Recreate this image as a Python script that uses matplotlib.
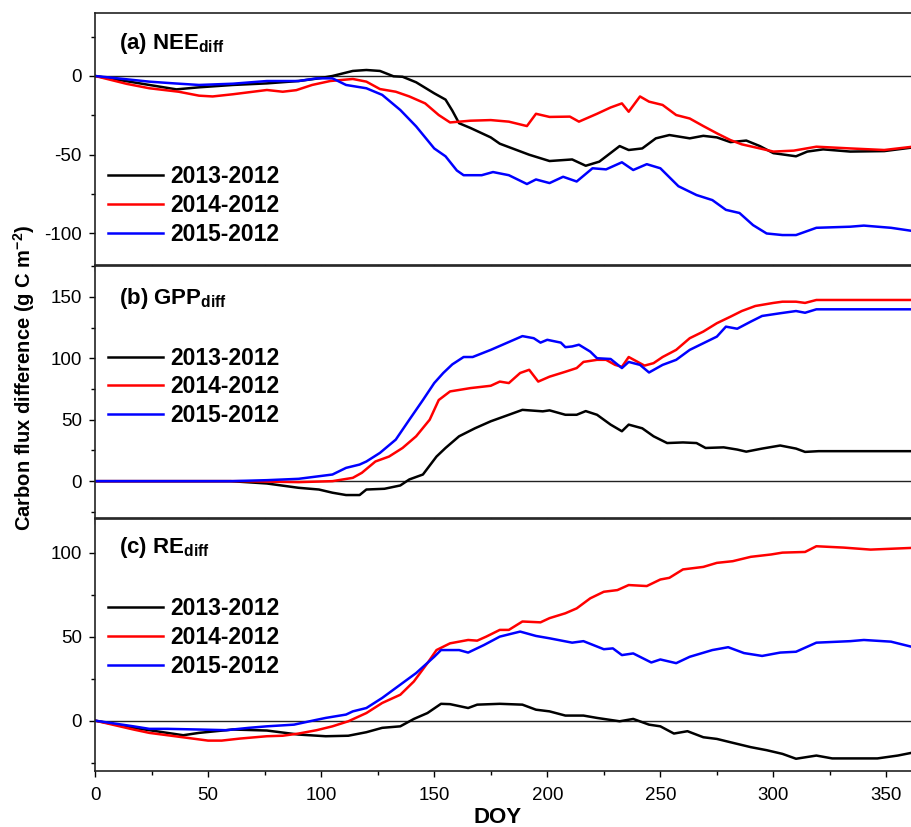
import numpy as np
import matplotlib
matplotlib.use('Agg')
import matplotlib.pyplot as plt
from matplotlib.ticker import MultipleLocator

plt.rcParams['font.family'] = ['Liberation Sans', 'DejaVu Sans']
plt.rcParams['mathtext.fontset'] = 'custom'
plt.rcParams['mathtext.rm'] = 'Liberation Sans'
plt.rcParams['mathtext.bf'] = 'Liberation Sans:bold'
plt.rcParams['axes.unicode_minus'] = False

series_names = ['2013-2012', '2014-2012', '2015-2012']
series_colors = ['black', 'red', 'blue']

# (a) NEE difference
nee_13_doy = [0, 24, 36, 46, 61, 76, 90, 99, 105, 114, 120, 126, 132, 136, 142, 150, 155, 158, 161,
              166, 175, 179, 192, 201, 211, 217, 223, 232, 236, 242, 248, 254, 263, 269, 275, 281,
              288, 294, 300, 310, 315, 322, 334, 349, 361, 365]
nee_13 = [0, -5.7, -8.5, -7.2, -5.7, -4.7, -3.2, -1.5, 0, 3.2, 3.8, 3.2, -0.2, -0.5, -4, -11, -15, -22, -30,
          -33, -39, -43, -50, -54, -53, -57, -54.4, -44.5, -47, -46, -39.6, -37.5, -39.6, -38, -39, -42,
          -41, -44.5, -49, -51, -48, -46.6, -48, -47.7, -45.5, -45.5]
nee_14_doy = [0, 14, 24, 37, 46, 52, 61, 76, 83, 89, 96, 104, 114, 120, 126, 133, 139, 146, 152, 157,
              166, 175, 183, 191, 195, 201, 210, 214, 222, 228, 233, 236, 241, 245, 251, 257, 263, 269,
              275, 281, 286, 294, 300, 309, 319, 334, 349, 361, 365]
nee_14 = [0, -5, -7.8, -10, -12.5, -13, -11.6, -8.9, -10, -9, -5.7, -3.2, -1.9, -3.6, -8.3, -10, -13, -17.4, -24.8, -29.5,
          -28.4, -28, -29, -31.8, -24, -26, -25.8, -29, -24, -20, -17.4, -22.7, -13, -16.3, -18.4, -24.8, -27, -31.8,
          -36.4, -40.7, -43.4, -46, -48, -47.4, -44.9, -46, -47, -45, -45]
nee_15_doy = [0, 24, 35, 46, 61, 76, 90, 98, 105, 111, 120, 127, 135, 142, 150, 155, 160, 163, 171, 176,
              183, 191, 195, 201, 207, 213, 220, 226, 233, 238, 244, 250, 258, 266, 273, 279, 285, 291,
              297, 304, 310, 319, 334, 340, 352, 361, 365]
nee_15 = [0, -3.6, -4.7, -5.7, -4.9, -3.2, -3.2, -1.5, -1.5, -5.7, -7.8, -12, -21.6, -32, -46, -51, -60, -63, -63, -61,
          -63, -68.6, -65.7, -68, -64, -67, -58.6, -59.3, -54.8, -59.7, -56, -58.6, -70, -75.6, -78.8, -85, -87, -94.7,
          -100, -101, -101, -96.4, -95.7, -95, -96.4, -98.3, -98.3]

# (b) GPP difference
gpp_13_doy = [0, 60, 76, 90, 99, 105, 111, 117, 120, 128, 135, 139, 145, 151, 155, 161, 168, 175, 183,
              189, 198, 201, 208, 213, 217, 222, 228, 233, 236, 242, 247, 253, 260, 266, 270, 278, 284,
              288, 295, 303, 310, 314, 320, 365]
gpp_13 = [0, 0, -1.9, -5.4, -6.8, -9.4, -11.3, -11.3, -6.8, -6.2, -3.5, 1.4, 5.4, 20, 27, 36.5, 43, 48.7, 54,
          58, 56.8, 57.6, 54, 54, 57, 54, 46, 40.6, 46, 43, 36.5, 31, 31.5, 31, 27, 27.5, 25.7,
          24, 26.5, 29, 26.5, 23.8, 24.4, 24.4]
gpp_14_doy = [0, 64, 90, 105, 114, 118, 124, 130, 136, 142, 148, 152, 157, 166, 175, 179, 183, 188, 192,
              196, 201, 208, 213, 216, 222, 226, 230, 233, 236, 239, 243, 247, 251, 257, 263, 269, 275,
              281, 286, 292, 300, 304, 310, 314, 319, 365]
gpp_14 = [0, 0, -0.8, 0, 2.7, 6.8, 16, 20, 27, 36.5, 50, 66, 73, 75.7, 77.6, 81, 79.8, 88, 90.6,
          81, 85, 89, 92, 97, 98.7, 98.7, 94.6, 93, 101, 98, 94, 96, 101, 106.8, 116.3, 121.7, 128.5,
          133.8, 138.4, 142.5, 145, 146, 146, 145, 147.4, 147.4]
gpp_15_doy = [0, 60, 76, 90, 99, 105, 111, 117, 120, 126, 133, 139, 145, 150, 154, 158, 163, 167, 175,
              180, 189, 194, 197, 200, 206, 208, 211, 214, 219, 222, 228, 233, 236, 241, 245, 251, 257,
              263, 269, 275, 279, 284, 290, 295, 303, 310, 314, 319, 365]
gpp_15 = [0, 0, 0.8, 1.9, 4, 5.4, 10.8, 13.5, 16, 23, 33.8, 50, 66, 79.8, 88, 95, 101, 101, 106.8,
          110.8, 118, 116.3, 112.7, 115, 112.7, 109, 109.6, 111, 105.4, 100, 99.4, 92, 97, 94.6, 88.4, 94.6, 98.7,
          106.8, 112.2, 117.6, 125.7, 124, 129.8, 134.4, 136.6, 138.4, 137, 139.8, 139.8]

# (c) RE difference
re_13_doy = [0, 17, 32, 39, 46, 61, 76, 90, 102, 112, 120, 127, 135, 141, 147, 153, 157, 165, 169,
             179, 189, 195, 201, 208, 216, 222, 232, 238, 245, 250, 256, 262, 269, 275, 282, 290, 297,
             304, 310, 319, 326, 334, 346, 355, 361, 365]
re_13 = [0, -4.3, -7.3, -8.7, -7.3, -5.3, -5.9, -8.3, -9.3, -9, -6.9, -4.3, -3.4, 1, 4.5, 10, 9.8, 7.5, 9.5,
         10, 9.5, 6.5, 5.5, 3, 3, 1.6, -0.4, 1, -2.4, -3.4, -7.7, -6.3, -9.9, -10.9, -13.2, -15.8, -17.6,
         -19.8, -22.7, -20.8, -22.5, -22.5, -22.5, -20.8, -19.2, -19.2]
re_14_doy = [0, 17, 24, 32, 41, 50, 56, 64, 76, 83, 90, 98, 105, 112, 120, 127, 135, 141, 147, 151,
             157, 165, 169, 173, 179, 183, 189, 197, 201, 208, 213, 219, 225, 231, 236, 244, 250, 254,
             260, 269, 275, 282, 290, 299, 304, 314, 319, 331, 343, 361, 365]
re_14 = [0, -5.3, -7.3, -8.7, -10.3, -11.9, -11.9, -10.7, -9.3, -9, -7.7, -5.7, -3.4, -0.4, 4.5, 10.5, 15.4, 23.3, 34.2, 42,
         46, 48, 47.6, 50, 54, 54, 59, 58.5, 61, 63.9, 66.8, 72.8, 76.7, 77.7, 80.7, 80.1, 84, 85,
         90, 91.5, 93.9, 94.9, 97.5, 98.9, 100, 100.4, 103.8, 103, 101.8, 102.8, 102.8]
re_15_doy = [0, 17, 24, 32, 46, 58, 68, 76, 88, 97, 102, 111, 114, 120, 127, 135, 142, 150, 153, 161,
             165, 172, 179, 188, 195, 201, 211, 216, 225, 229, 233, 238, 246, 250, 257, 263, 273, 280,
             287, 295, 303, 310, 319, 334, 340, 352, 361, 365]
re_15 = [0, -3.4, -4.9, -4.9, -5.3, -5.7, -4.3, -3.4, -2.4, 0.2, 1.6, 3.6, 5.5, 7.5, 13.5, 21.4, 28.3, 38, 42, 42,
         40.5, 45, 50, 53, 50.4, 49, 46.4, 47.3, 42.5, 43, 39, 40, 34.6, 36.4, 34.2, 38, 42, 43.7,
         40.2, 38.5, 40.5, 41, 46.4, 47.3, 48, 47, 44, 44]

panels = [
    (r'(a) NEE$_{\mathbf{diff}}$', [(nee_13_doy, nee_13), (nee_14_doy, nee_14), (nee_15_doy, nee_15)],
     (-120, 40), [-100, -50, 0], 0.236),
    (r'(b) GPP$_{\mathbf{diff}}$', [(gpp_13_doy, gpp_13), (gpp_14_doy, gpp_14), (gpp_15_doy, gpp_15)],
     (-30, 175), [0, 50, 100, 150], 0.520),
    (r'(c) RE$_{\mathbf{diff}}$', [(re_13_doy, re_13), (re_14_doy, re_14), (re_15_doy, re_15)],
     (-30, 120), [0, 50, 100], 0.530),
]

fig = plt.figure(figsize=(9.12, 8.27), dpi=100)
label_y = [0.857, 0.851, 0.866]
bottoms = [0.6796, 0.3736, 0.0677]
height = 0.3047
axes = []
for i, (title, data, ylim, yticks, leg_y) in enumerate(panels):
    ax = fig.add_axes([0.1042, bottoms[i], 0.905, height])
    ax.axhline(0, color='#222222', lw=1.0, zorder=1)
    for (doy, vals), name, col in zip(data, series_names, series_colors):
        ax.plot(doy, vals, color=col, lw=1.8, label=name, zorder=2)
    ax.set_xlim(0, 365)
    ax.set_ylim(*ylim)
    ax.set_yticks(yticks)
    ax.yaxis.set_minor_locator(MultipleLocator(25))
    ax.xaxis.set_major_locator(MultipleLocator(50))
    ax.xaxis.set_minor_locator(MultipleLocator(25))
    ax.tick_params(which='major', direction='out', length=4.5, width=1.0, labelsize=13.5, pad=5)
    ax.tick_params(which='minor', direction='out', length=3, width=1.0)
    ax.tick_params(axis='x', which='major', pad=7)
    for sp in ax.spines.values():
        sp.set_linewidth(1.2)
        sp.set_color('#222222')
    ax.spines['right'].set_visible(False)
    ax.text(0.029, label_y[i], title, transform=ax.transAxes, fontsize=16,
            fontweight='bold', va='baseline', ha='left')
    leg = ax.legend(loc='center left', bbox_to_anchor=(0.0157, leg_y), frameon=False,
                    borderpad=0, borderaxespad=0, handlelength=2.4, handletextpad=0.3,
                    labelspacing=0.25, prop={'weight': 'bold', 'size': 16.5})
    if i < 2:
        ax.tick_params(axis='x', labelbottom=False)
    axes.append(ax)

axes[2].set_xlabel('DOY', fontsize=16, fontweight='bold', va='center')
axes[2].xaxis.set_label_coords(0.488, -0.183)
fig.text(0.026, 0.543, r'Carbon flux difference (g C m$^{\mathbf{-2}}$)', rotation=90,
         fontsize=14.5, fontweight='bold', va='center', ha='center')

fig.savefig('out.png', dpi=100)
